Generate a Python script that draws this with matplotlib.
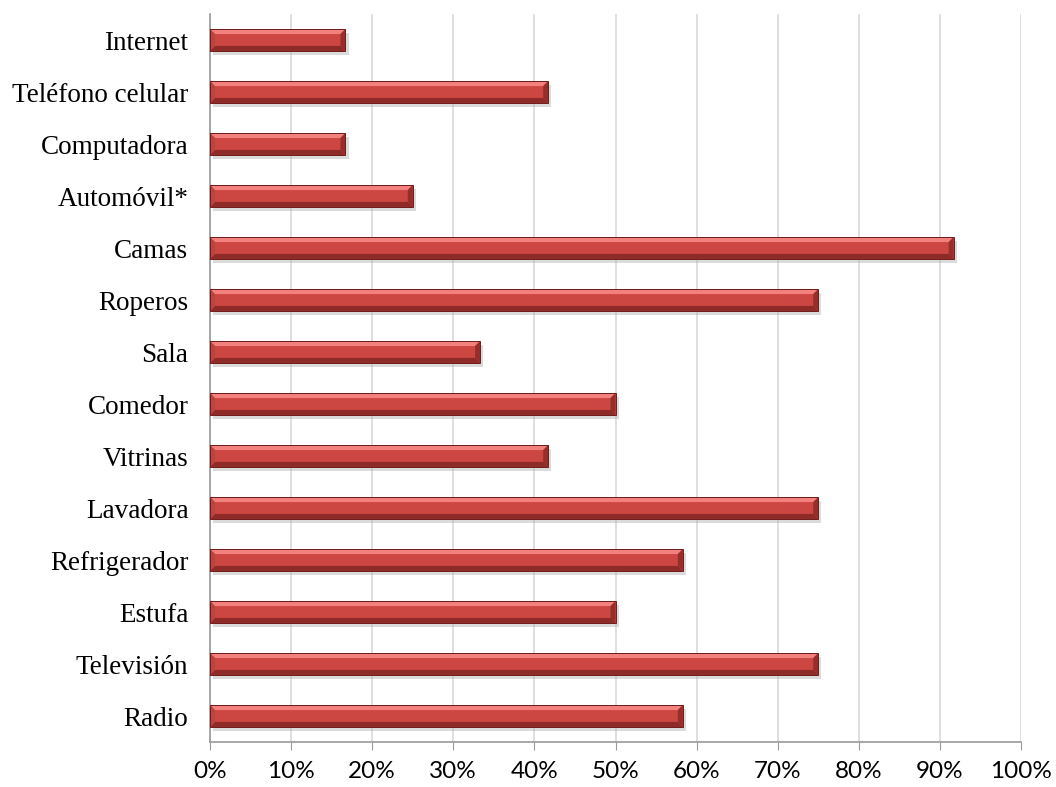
import matplotlib
matplotlib.use('Agg')
import matplotlib.pyplot as plt
from matplotlib.patches import Polygon, Rectangle
import numpy as np

categories = ['Radio', 'Televisión', 'Estufa', 'Refrigerador', 'Lavadora', 'Vitrinas',
              'Comedor', 'Sala', 'Roperos', 'Camas', 'Automóvil*', 'Computadora',
              'Teléfono celular', 'Internet']
values = [58.3, 75.0, 50.0, 58.3, 75.0, 41.7, 50.0, 33.3, 75.0, 91.7, 25.0, 16.7, 41.7, 16.7]
xticks = [0, 10, 20, 30, 40, 50, 60, 70, 80, 90, 100]

fig = plt.figure(figsize=(10.56, 7.87), dpi=100)
ax = fig.add_axes([210/1056, 1-742/787, 811/1056, 728/787])

h = 0.42
y = np.arange(len(categories))
ax.set_xlim(0, 100)
ax.set_ylim(-0.5, len(categories)-0.5)

# bevel sizes in data units (~5 px)
bx = 5/811*100
by = 5/52

for yi, v in zip(y, values):
    y0, y1 = yi - h/2, yi + h/2
    # drop shadow
    ax.add_patch(Rectangle((0.4, y0 - 0.07), v, h, facecolor='#b0b0b0', alpha=0.45,
                           edgecolor='none', zorder=2))
    ax.barh(yi, v, height=h, color='#cc4642', edgecolor='none', zorder=3)
    # top bevel light, bottom bevel dark, end caps
    ax.add_patch(Polygon([(0, y1), (v, y1), (v-bx, y1-by), (bx, y1-by)],
                         facecolor='#f2807c', edgecolor='none', zorder=4))
    ax.add_patch(Polygon([(0, y0), (v, y0), (v-bx, y0+by), (bx, y0+by)],
                         facecolor='#8e2a27', edgecolor='none', zorder=4))
    ax.add_patch(Polygon([(0, y0), (bx, y0+by), (bx, y1-by), (0, y1)],
                         facecolor='#bb4440', edgecolor='none', zorder=4))
    ax.add_patch(Polygon([(v, y0), (v-bx, y0+by), (v-bx, y1-by), (v, y1)],
                         facecolor='#982e2b', edgecolor='none', zorder=4))
    ax.add_patch(Rectangle((0, y0), v, h, facecolor='none', edgecolor='#6e1b19',
                           linewidth=0.7, zorder=5))

ax.set_yticks(y)
ax.set_yticklabels(categories, fontfamily='Liberation Serif', fontsize=19.5)
ax.tick_params(axis='y', length=0, pad=15.5)
ax.set_xticks(xticks)
ax.set_xticklabels([f'{t}%' for t in xticks], fontfamily='Lato', fontsize=17.5)
ax.tick_params(axis='x', length=6, color='#999999', pad=8)
ax.grid(axis='x', color='#d9d9d9', linewidth=1.2, zorder=0)
ax.set_axisbelow(True)
for s in ['top', 'right']:
    ax.spines[s].set_visible(False)
ax.spines['left'].set_color('#999999')
ax.spines['bottom'].set_color('#999999')
ax.spines['left'].set_linewidth(1.2)
ax.spines['bottom'].set_linewidth(1.2)

fig.savefig('out.png', dpi=100)
